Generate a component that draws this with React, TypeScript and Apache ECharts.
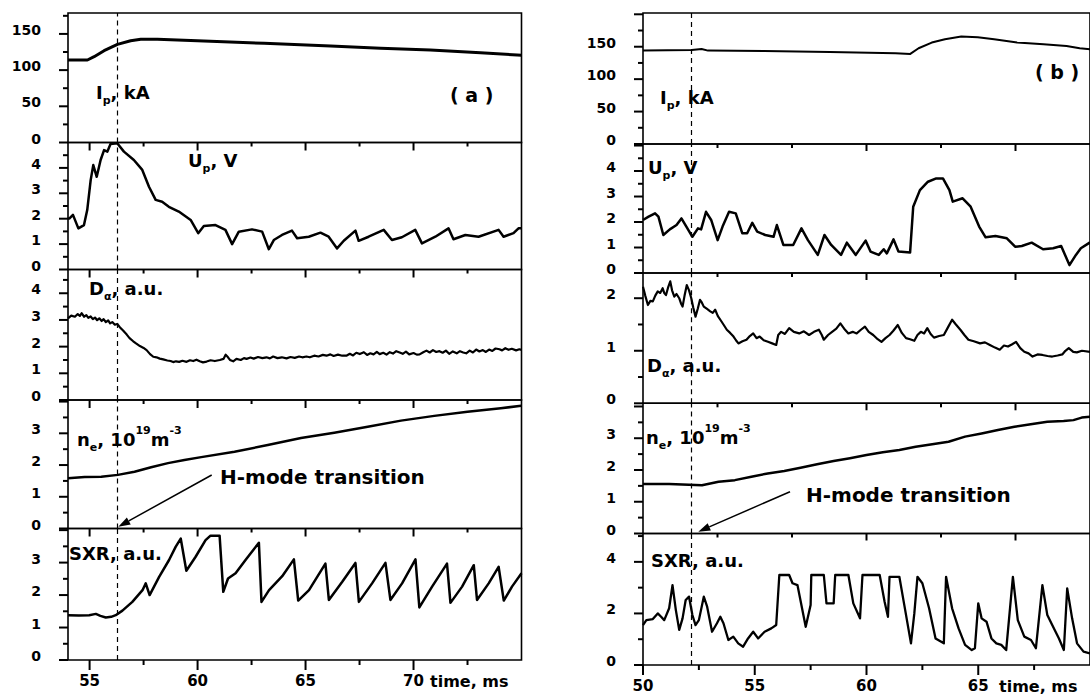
import React, { useEffect, useRef } from 'react';
import * as echarts from 'echarts';

const FONT = '"DejaVu Sans", "Liberation Sans", Arial, sans-serif';

// ---------------- data: panel (a) ----------------
const ipA: [number, number][] = [[54.0,114],[54.9,114],[55.21,118.5],[55.67,126.8],[56.29,135.6],[56.9,140.6],[57.37,142.5],[58.14,142.5],[59.99,140.6],[63.08,137],[66.16,133.3],[68.47,130.1],[70.78,127.7],[73.1,124],[74.8,120.8],[75.0,120.5]];
const upA: [number, number][] = [[54.0,2.0],[54.08,2.02],[54.23,2.15],[54.48,1.62],[54.74,1.75],[54.89,2.34],[55.05,3.52],[55.17,4.11],[55.33,3.65],[55.51,4.31],[55.67,4.7],[55.82,4.64],[55.97,4.94],[56.28,4.97],[56.59,4.64],[57.05,4.31],[57.44,3.92],[57.75,3.26],[58.06,2.74],[58.36,2.67],[58.67,2.47],[59.13,2.28],[59.68,1.95],[60.03,1.43],[60.29,1.71],[60.83,1.75],[61.29,1.56],[61.6,1.0],[61.91,1.49],[62.52,1.58],[62.99,1.49],[63.3,0.8],[63.53,1.16],[63.91,1.36],[64.37,1.53],[64.61,1.23],[65.15,1.29],[65.69,1.45],[66.07,1.29],[66.46,0.83],[66.77,1.13],[67.31,1.53],[67.46,1.13],[67.92,1.29],[68.62,1.56],[69.0,1.16],[69.46,1.27],[70.08,1.56],[70.39,1.03],[71.01,1.29],[71.62,1.62],[71.85,1.19],[72.4,1.36],[73.01,1.29],[73.94,1.56],[74.17,1.29],[74.63,1.43],[74.86,1.62],[75.0,1.62]];
const daA: [number, number][] = [[54.0,3.06],[54.15,3.16],[54.32,3.12],[54.45,3.22],[54.55,3.15],[54.63,3.25],[54.75,3.12],[54.85,3.18],[54.94,3.08],[55.05,3.13],[55.15,3.03],[55.25,3.09],[55.35,2.99],[55.45,3.06],[55.56,2.96],[55.65,3.03],[55.75,2.92],[55.86,2.98],[55.95,2.87],[56.05,2.92],[56.17,2.82],[56.28,2.85],[56.41,2.72],[56.55,2.6],[56.72,2.45],[56.85,2.32],[57.02,2.2],[57.15,2.12],[57.33,2.02],[57.5,1.95],[57.64,1.87],[57.8,1.72],[57.95,1.62],[58.1,1.6],[58.25,1.55],[58.41,1.52],[58.6,1.48],[58.75,1.46],[58.87,1.42],[59.0,1.45],[59.15,1.43],[59.3,1.47],[59.49,1.43],[59.65,1.49],[59.8,1.46],[59.95,1.51],[60.1,1.45],[60.25,1.41],[60.42,1.44],[60.6,1.49],[60.8,1.46],[61.03,1.5],[61.2,1.54],[61.3,1.7],[61.41,1.6],[61.5,1.5],[61.65,1.45],[61.8,1.54],[62.0,1.5],[62.15,1.57],[62.27,1.54],[62.45,1.59],[62.6,1.55],[62.8,1.61],[63.0,1.57],[63.19,1.6],[63.35,1.56],[63.5,1.63],[63.7,1.57],[63.9,1.6],[64.12,1.56],[64.3,1.61],[64.5,1.58],[64.7,1.63],[64.85,1.6],[65.04,1.63],[65.2,1.6],[65.4,1.66],[65.6,1.63],[65.8,1.69],[65.97,1.66],[66.15,1.71],[66.3,1.65],[66.5,1.7],[66.7,1.66],[66.89,1.66],[67.05,1.73],[67.2,1.67],[67.35,1.77],[67.51,1.72],[67.7,1.79],[67.85,1.69],[68.0,1.75],[68.15,1.71],[68.3,1.8],[68.43,1.72],[68.6,1.77],[68.75,1.7],[68.9,1.79],[69.05,1.74],[69.2,1.83],[69.36,1.78],[69.5,1.73],[69.65,1.81],[69.8,1.71],[70.0,1.76],[70.15,1.7],[70.28,1.71],[70.45,1.79],[70.6,1.85],[70.75,1.78],[70.9,1.87],[71.05,1.8],[71.2,1.83],[71.35,1.77],[71.5,1.85],[71.65,1.73],[71.82,1.82],[72.0,1.75],[72.15,1.83],[72.3,1.78],[72.44,1.75],[72.6,1.85],[72.75,1.78],[72.9,1.89],[73.05,1.82],[73.21,1.87],[73.35,1.8],[73.5,1.89],[73.65,1.84],[73.8,1.93],[73.98,1.9],[74.1,1.86],[74.25,1.94],[74.4,1.88],[74.55,1.92],[74.75,1.86],[74.9,1.9],[75.0,1.88]];
const neA: [number, number][] = [[54,1.58],[54.77,1.62],[55.54,1.63],[56.31,1.69],[57.08,1.79],[57.85,1.93],[58.63,2.06],[59.39,2.16],[60.17,2.25],[61.71,2.42],[63.25,2.63],[64.79,2.85],[66.33,3.02],[67.88,3.21],[69.42,3.4],[70.96,3.55],[72.5,3.68],[74.04,3.79],[74.89,3.86],[75,3.87]];
const sxrA: [number, number][] = [[54.0,1.38],[54.5,1.37],[54.98,1.38],[55.29,1.42],[55.5,1.36],[55.75,1.31],[56.0,1.33],[56.21,1.38],[56.52,1.52],[56.98,1.79],[57.45,2.15],[57.6,2.36],[57.78,2.0],[58.22,2.56],[58.68,3.08],[58.99,3.49],[59.22,3.74],[59.48,2.75],[59.91,3.18],[60.37,3.69],[60.6,3.83],[61.02,3.83],[61.19,2.1],[61.41,2.51],[61.76,2.67],[62.22,3.08],[62.84,3.61],[62.96,1.79],[63.31,2.15],[63.92,2.58],[64.46,3.1],[64.66,1.83],[65.16,2.15],[65.92,2.97],[66.08,1.85],[66.7,2.41],[67.31,2.99],[67.47,1.79],[68.08,2.36],[68.7,2.99],[68.93,1.85],[69.47,2.36],[70.09,3.1],[70.27,1.62],[70.86,2.26],[71.55,2.97],[71.71,1.76],[72.25,2.26],[72.79,2.92],[72.94,1.85],[73.48,2.36],[73.94,2.87],[74.18,1.83],[74.56,2.26],[75.0,2.67]];

// ---------------- data: panel (b) ----------------
const ipB: [number, number][] = [[50,144],[52.18,145],[52.62,146.6],[52.91,144],[55.42,143.5],[58.36,142],[61.3,140],[61.96,138.9],[62.33,147.6],[62.92,156.4],[63.51,161.5],[64.24,165.6],[64.98,164.6],[65.71,161.5],[66.74,156.4],[67.92,153.8],[68.95,151.2],[69.54,147.6],[70,146]];
const upB: [number, number][] = [[50,2.08],[50.25,2.21],[50.54,2.34],[50.69,2.21],[50.91,1.49],[51.2,1.71],[51.5,1.88],[51.72,2.14],[51.94,1.82],[52.21,1.42],[52.46,1.75],[52.6,1.71],[52.82,2.4],[53.05,2.08],[53.34,1.29],[53.56,1.82],[53.85,2.4],[54.15,2.34],[54.44,1.56],[54.66,1.56],[54.89,1.97],[55.11,1.62],[55.47,1.49],[55.84,1.42],[55.99,1.88],[56.28,1.1],[56.72,1.1],[57.09,1.75],[57.38,1.29],[57.82,0.71],[58.12,1.49],[58.42,1.1],[58.86,0.71],[59.12,1.19],[59.3,0.97],[59.52,0.71],[59.96,1.27],[60.18,0.84],[60.55,0.71],[60.77,0.93],[60.91,0.77],[61.21,1.32],[61.43,0.84],[61.95,0.8],[62.09,2.6],[62.39,3.25],[62.75,3.58],[63.12,3.71],[63.42,3.71],[63.71,3.25],[63.86,2.8],[64.3,2.93],[64.66,2.6],[65.04,1.82],[65.33,1.4],[65.77,1.45],[66.28,1.36],[66.65,1.03],[66.95,1.06],[67.39,1.19],[67.9,0.93],[68.35,0.97],[68.71,1.06],[69.08,0.31],[69.37,0.71],[69.59,0.97],[70,1.2]];
const daB: [number, number][] = [[50,2.22],[50.1,2.05],[50.22,1.87],[50.33,1.95],[50.44,1.94],[50.55,2.05],[50.66,2.13],[50.77,2.1],[50.88,2.19],[50.95,2.1],[51.03,2.06],[51.12,2.2],[51.22,2.32],[51.3,2.15],[51.4,2.03],[51.5,2.08],[51.62,2.0],[51.7,1.9],[51.77,1.84],[51.86,2.05],[51.96,2.25],[52.06,2.15],[52.16,2.0],[52.25,1.82],[52.35,1.65],[52.45,1.8],[52.55,1.97],[52.63,1.92],[52.72,1.84],[52.85,1.8],[53.01,1.75],[53.12,1.72],[53.23,1.78],[53.35,1.66],[53.46,1.59],[53.6,1.5],[53.75,1.4],[53.9,1.34],[54.05,1.27],[54.16,1.2],[54.27,1.14],[54.45,1.18],[54.63,1.21],[54.78,1.28],[54.93,1.33],[55.08,1.24],[55.22,1.27],[55.4,1.2],[55.59,1.17],[55.78,1.14],[55.96,1.11],[56.05,1.3],[56.18,1.36],[56.35,1.32],[56.54,1.43],[56.75,1.36],[56.99,1.33],[57.2,1.37],[57.43,1.3],[57.65,1.36],[57.87,1.4],[58.0,1.3],[58.09,1.21],[58.28,1.3],[58.46,1.36],[58.65,1.42],[58.83,1.52],[59.0,1.42],[59.19,1.33],[59.38,1.36],[59.56,1.33],[59.75,1.4],[59.93,1.46],[60.1,1.36],[60.3,1.3],[60.5,1.22],[60.67,1.17],[60.85,1.24],[61.03,1.3],[61.2,1.38],[61.4,1.49],[61.58,1.34],[61.77,1.24],[61.95,1.22],[62.14,1.19],[62.28,1.3],[62.43,1.36],[62.58,1.33],[62.72,1.43],[62.87,1.32],[63.02,1.25],[63.25,1.28],[63.46,1.3],[63.65,1.45],[63.83,1.59],[64.0,1.5],[64.2,1.4],[64.38,1.3],[64.56,1.21],[64.8,1.18],[65.08,1.14],[65.3,1.16],[65.52,1.11],[65.75,1.06],[65.96,1.02],[66.15,1.1],[66.33,1.08],[66.5,1.12],[66.69,1.17],[66.88,1.05],[67.06,0.98],[67.25,0.95],[67.43,0.89],[67.65,0.93],[67.87,0.92],[68.1,0.9],[68.31,0.89],[68.55,0.91],[68.76,0.93],[68.9,1.0],[69.05,1.05],[69.25,0.98],[69.41,0.97],[69.64,1.0],[70,0.98]];
const neB: [number, number][] = [[50,1.56],[51.17,1.56],[52.64,1.52],[53.38,1.63],[54.11,1.68],[54.85,1.79],[55.58,1.89],[56.32,1.97],[57.05,2.07],[57.79,2.18],[58.53,2.28],[59.26,2.37],[60,2.47],[60.73,2.56],[61.47,2.63],[62.2,2.73],[62.94,2.81],[63.67,2.89],[64.41,3.05],[65.15,3.15],[65.88,3.26],[66.62,3.36],[67.35,3.44],[68.09,3.52],[68.82,3.54],[69.26,3.57],[69.63,3.65],[70,3.68]];
const sxrB: [number, number][] = [[50,1.55],[50.15,1.74],[50.44,1.78],[50.66,2.0],[50.81,1.87],[50.95,1.74],[51.17,2.2],[51.32,3.1],[51.47,2.13],[51.62,1.36],[51.77,1.81],[51.91,2.52],[52.06,2.65],[52.21,1.94],[52.35,1.55],[52.5,1.74],[52.72,2.65],[52.87,2.26],[53.09,1.29],[53.31,1.62],[53.46,1.87],[53.6,1.62],[53.82,0.97],[54.04,1.1],[54.26,0.84],[54.48,0.71],[54.7,1.03],[54.93,1.29],[55.15,1.03],[55.44,1.29],[55.74,1.42],[55.96,1.55],[56.1,3.49],[56.54,3.49],[56.69,3.17],[56.91,3.1],[57.28,1.48],[57.5,2.33],[57.53,3.49],[58.09,3.49],[58.21,2.39],[58.53,2.39],[58.6,3.49],[59.19,3.49],[59.41,2.39],[59.71,1.81],[59.82,3.49],[60.59,3.49],[60.81,2.45],[60.96,1.87],[61.03,3.42],[61.47,3.42],[61.69,2.33],[61.99,0.84],[62.14,2.0],[62.28,3.42],[62.5,3.17],[62.8,2.2],[63.09,1.03],[63.46,0.84],[63.56,3.42],[63.83,2.2],[64.12,1.42],[64.41,0.78],[64.71,0.58],[64.85,0.65],[65.0,2.39],[65.15,1.81],[65.37,1.68],[65.59,1.03],[65.81,0.84],[66.03,0.78],[66.25,0.58],[66.55,3.42],[66.77,1.74],[67.06,1.1],[67.36,0.97],[67.58,0.65],[67.87,3.1],[68.09,1.94],[68.31,1.55],[68.61,1.03],[68.83,0.58],[68.98,2.97],[69.2,1.81],[69.42,0.84],[69.71,0.52],[70,0.45]];

// H-mode transition times
const transitionA = 56.3;
const transitionB = 52.15;

// ---------------- tick / label values ----------------
const xMajorA = [55, 60, 65, 70];
const xMinorA = [57.5, 62.5, 67.5, 72.5];
const xLabelsA = [55, 60, 65, 70];
const xInnerMajorB = [60, 66.667];
const xInnerMinorB = [53.333, 56.667, 63.333];
const xMajorB = [50, 55, 60, 65];
const xMinorB = [52.5, 57.5, 62.5, 67.5];
const xLabelsB = [50, 55, 60, 65];

const ipLabels = [0, 50, 100, 150];
const fiveLabels = [0, 1, 2, 3, 4];
const fourLabels = [0, 1, 2, 3];
const daBLabels = [0, 1, 2];
const sxrBLabels = [0, 2, 4];

type Sub = { data: [number, number][]; yMax: number; major: number; minor: number; labels: number[]; lw: number };
type Panel = {
  left: number; width: number; xMin: number; xMax: number;
  edges: number[]; subs: Sub[]; trans: number;
  innerMajor: number[]; innerMinor: number[]; innerMajorLen: number; innerMinorLen: number;
  bottomMajor: number[]; bottomMinor: number[]; bottomLabels: number[];
};

const panels: Panel[] = [
  {
    left: 68, width: 453.5, xMin: 54, xMax: 75,
    edges: [13, 142.5, 269.5, 400, 528.5, 660],
    trans: transitionA,
    innerMajor: xMajorA, innerMinor: xMinorA, innerMajorLen: 8, innerMinorLen: 4,
    bottomMajor: xMajorA, bottomMinor: xMinorA, bottomLabels: xLabelsA,
    subs: [
      { data: ipA, yMax: 178.9, major: 50, minor: 25, labels: ipLabels, lw: 3 },
      { data: upA, yMax: 5.0, major: 1, minor: 0.5, labels: fiveLabels, lw: 2.5 },
      { data: daA, yMax: 4.89, major: 1, minor: 0.5, labels: fiveLabels, lw: 2.2 },
      { data: neA, yMax: 4.05, major: 1, minor: 0.5, labels: fourLabels, lw: 2.5 },
      { data: sxrA, yMax: 4.05, major: 1, minor: 0.5, labels: fourLabels, lw: 2.5 },
    ],
  },
  {
    left: 643, width: 453.2, xMin: 50, xMax: 70,
    edges: [13, 144, 273, 403.3, 533.5, 665],
    trans: transitionB,
    innerMajor: xInnerMajorB, innerMinor: xInnerMinorB, innerMajorLen: 7, innerMinorLen: 4,
    bottomMajor: xMajorB, bottomMinor: xMinorB, bottomLabels: xLabelsB,
    subs: [
      { data: ipB, yMax: 202, major: 50, minor: 25, labels: ipLabels, lw: 2 },
      { data: upB, yMax: 5.06, major: 1, minor: 0.5, labels: fiveLabels, lw: 2.5 },
      { data: daB, yMax: 2.48, major: 1, minor: 0.5, labels: daBLabels, lw: 2.2 },
      { data: neB, yMax: 4.1, major: 1, minor: 0.5, labels: fourLabels, lw: 2.5 },
      { data: sxrB, yMax: 5.1, major: 2, minor: 1, labels: sxrBLabels, lw: 2.3 },
    ],
  },
];

const rich = {
  m: { fontFamily: FONT, fontWeight: 'bold', fontSize: 18, lineHeight: 28, fill: '#000' },
  sb: { fontFamily: FONT, fontWeight: 'bold', fontSize: 11, lineHeight: 8, verticalAlign: 'bottom', fill: '#000' },
  sp: { fontFamily: FONT, fontWeight: 'bold', fontSize: 11, lineHeight: 12, verticalAlign: 'top', fill: '#000' },
  big: { fontFamily: FONT, fontWeight: 'bold', fontSize: 19, lineHeight: 28, fill: '#000' },
};

function label(x: number, y: number, text: string) {
  return { type: 'text', x, y, z: 20, silent: true, style: { text, rich, align: 'left', verticalAlign: 'middle' } };
}
function plain(x: number, y: number, text: string, size: number) {
  return { type: 'text', x, y, z: 20, silent: true, style: { text, fill: '#000', font: `bold ${size}px ${FONT}`, align: 'left', verticalAlign: 'middle' } };
}
function arrow(x1: number, y1: number, x2: number, y2: number) {
  const dx = x2 - x1, dy = y2 - y1;
  const len = Math.hypot(dx, dy);
  const ux = dx / len, uy = dy / len;
  const bx = x2 - 12 * ux, by = y2 - 12 * uy;
  const nx = -uy, ny = ux;
  return [
    { type: 'line', z: 20, silent: true, shape: { x1, y1, x2: bx, y2: by }, style: { stroke: '#000', lineWidth: 1.5 } },
    { type: 'polygon', z: 20, silent: true, shape: { points: [[x2, y2], [bx + 4 * nx, by + 4 * ny], [bx - 4 * nx, by - 4 * ny]] }, style: { fill: '#000' } },
  ];
}

const isIn = (list: number[], v: number) => list.some((l) => Math.abs(l - v) < 1e-6);
const fmtNum = (v: number) => String(Math.round(v * 1000) / 1000);

function buildOption() {
  const grid: any[] = [], xAxis: any[] = [], yAxis: any[] = [], series: any[] = [];

  panels.forEach((p) => {
    p.subs.forEach((s, si) => {
      const gi = grid.length;
      const last = si === p.subs.length - 1;
      grid.push({ left: p.left, width: p.width, top: p.edges[si], height: p.edges[si + 1] - p.edges[si], show: true, borderColor: '#000', borderWidth: 1.6 });
      xAxis.push({ type: 'value', gridIndex: gi, min: p.xMin, max: p.xMax, show: false });
      yAxis.push({ type: 'value', gridIndex: gi, min: 0, max: s.yMax, show: false });

      series.push({
        type: 'line', xAxisIndex: gi, yAxisIndex: gi, data: s.data,
        showSymbol: false, symbol: 'none', silent: true, z: 3,
        lineStyle: { color: '#000', width: s.lw, join: 'round' },
        markLine: {
          silent: true, symbol: ['none', 'none'], label: { show: false },
          lineStyle: { color: '#000', type: [5, 4], width: 1.2 },
          data: [{ xAxis: p.trans }],
        },
      });

      // y-axis ticks + labels: [value, length, hasLabel]
      const yTicks: number[][] = [];
      const nMinor = Math.floor(s.yMax / s.minor + 1e-6);
      for (let k = 0; k <= nMinor; k++) {
        const v = Math.round(k * s.minor * 1000) / 1000;
        if (v > s.yMax - 0.01 * s.minor) continue;
        const isMajor = Math.abs(v / s.major - Math.round(v / s.major)) < 1e-6;
        yTicks.push([p.xMin, v, isMajor ? 9 : 5, isIn(s.labels, v) ? 1 : 0]);
      }
      series.push({
        type: 'custom', coordinateSystem: 'cartesian2d', xAxisIndex: gi, yAxisIndex: gi,
        data: yTicks, clip: false, silent: true, z: 10,
        renderItem: (_params: any, api: any) => {
          const v = api.value(1), len = api.value(2), lab = api.value(3);
          const pt = api.coord([p.xMin, v]);
          const children: any[] = [
            { type: 'line', shape: { x1: pt[0] - len, y1: pt[1], x2: pt[0], y2: pt[1] }, style: { stroke: '#000', lineWidth: 2 } },
          ];
          if (lab) {
            children.push({ type: 'text', x: pt[0] - 27, y: pt[1] - 4, style: { text: fmtNum(v), fill: '#000', font: `bold 14px ${FONT}`, align: 'right', verticalAlign: 'middle' } });
          }
          return { type: 'group', children };
        },
      });

      // x-axis ticks (at bottom edge of grid, pointing down) + labels
      const majorVals = last ? p.bottomMajor : p.innerMajor;
      const minorVals = last ? p.bottomMinor : p.innerMinor;
      const xTicks: number[][] = [
        ...majorVals.map((t) => [t, 0, last ? 10 : p.innerMajorLen, last && isIn(p.bottomLabels, t) ? 1 : 0]),
        ...minorVals.map((t) => [t, 0, last ? 5 : p.innerMinorLen, 0]),
      ];
      series.push({
        type: 'custom', coordinateSystem: 'cartesian2d', xAxisIndex: gi, yAxisIndex: gi,
        data: xTicks, clip: false, silent: true, z: 10,
        renderItem: (_params: any, api: any) => {
          const t = api.value(0), len = api.value(2), lab = api.value(3);
          const pt = api.coord([t, 0]);
          const children: any[] = [
            { type: 'line', shape: { x1: pt[0], y1: pt[1], x2: pt[0], y2: pt[1] + len }, style: { stroke: '#000', lineWidth: 2 } },
          ];
          if (lab) {
            children.push({ type: 'text', x: pt[0], y: pt[1] + 13, style: { text: fmtNum(t), fill: '#000', font: `bold 15px ${FONT}`, align: 'center', verticalAlign: 'top' } });
          }
          return { type: 'group', children };
        },
      });
    });
  });

  const graphic = [
    label(96, 92, '{m|I}{sb|p}{m|, kA}'),
    label(450, 95, '{big|( a )}'),
    label(188, 160, '{m|U}{sb|p}{m|, V}'),
    label(89, 288, '{m|D}{sb|α}{m|, a.u.}'),
    label(77, 439, '{m|n}{sb|e}{m|, 10}{sp|19}{m|m}{sp|-3}'),
    plain(220, 477, 'H-mode transition', 20),
    label(69, 553, '{m|SXR, a.u.}'),
    plain(430, 681, 'time, ms', 16),
    ...arrow(211.7, 475, 118.3, 526.7),

    label(660, 97, '{m|I}{sb|p}{m|, kA}'),
    label(1035, 72, '{big|( b )}'),
    label(648, 167, '{m|U}{sb|p}{m|, V}'),
    label(647, 365, '{m|D}{sb|α}{m|, a.u.}'),
    label(646, 437, '{m|n}{sb|e}{m|, 10}{sp|19}{m|m}{sp|-3}'),
    plain(806, 495, 'H-mode transition', 20),
    label(651, 560, '{m|SXR, a.u.}'),
    plain(999, 686, 'time, ms', 16),
    ...arrow(790, 491.7, 698.3, 531.7),
  ];

  return { animation: false, backgroundColor: '#fff', grid, xAxis, yAxis, series, graphic };
}

export default function App() {
  const ref = useRef<HTMLDivElement>(null);
  useEffect(() => {
    if (!ref.current) return;
    const chart = echarts.init(ref.current, undefined, { renderer: 'svg' });
    chart.setOption(buildOption() as any);
    return () => chart.dispose();
  }, []);
  return <div ref={ref} style={{ position: 'fixed', left: 0, top: 0, width: 1090, height: 699, background: '#fff' }} />;
}
